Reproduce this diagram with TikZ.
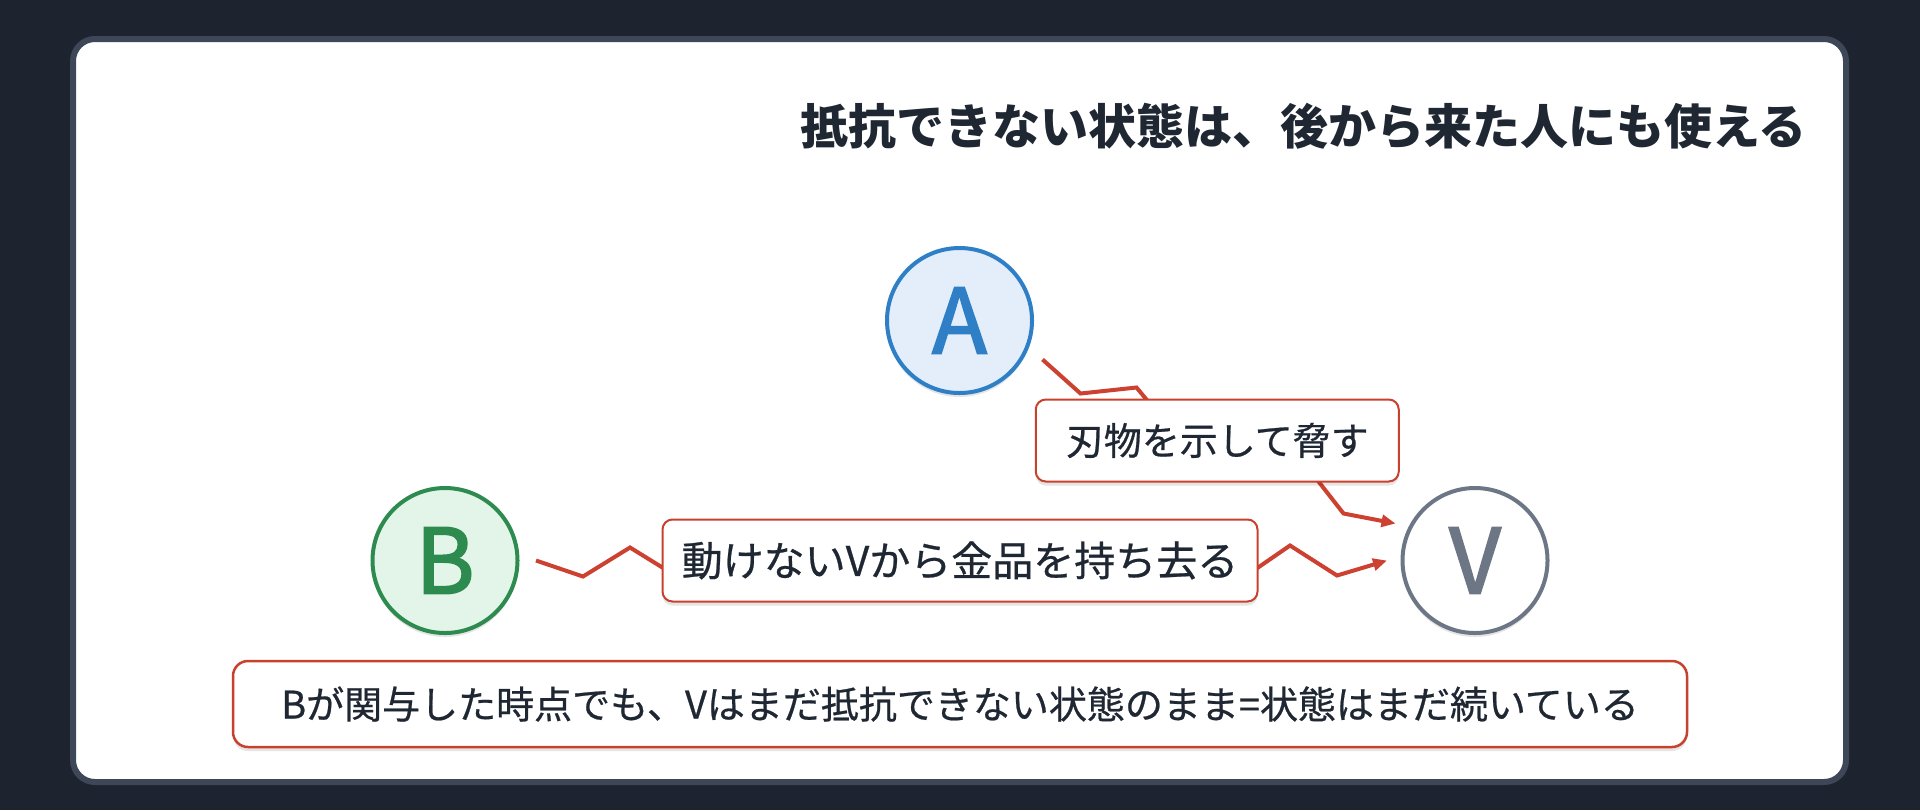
\documentclass[tikz,border=0pt]{standalone}
\usepackage{fontspec}
\setmainfont{Noto Sans CJK JP}
\newfontfamily\labelfont{Noto Sans CJK JP}[FakeBold=0.6]
\newfontfamily\letterfont{Noto Sans CJK JP}[FakeBold=2.2]
\usetikzlibrary{calc,arrows.meta,positioning,shadows}

\definecolor{bgdark}{HTML}{1E242F}
\definecolor{cardedge}{HTML}{3D4757}
\definecolor{ink}{HTML}{1F2733}
\definecolor{zapred}{HTML}{CC4130}
\definecolor{boxred}{HTML}{C8412C}
\definecolor{ablue}{HTML}{2E7FC6}
\definecolor{afill}{HTML}{E4EEFA}
\definecolor{bgreen}{HTML}{2E8B50}
\definecolor{bfill}{HTML}{E3F5E8}
\definecolor{vgray}{HTML}{6C7684}

\tikzset{
  person/.style={circle, minimum size=72.5pt, inner sep=0pt, line width=2pt,
    font=\fontsize{45}{45}\selectfont\letterfont},
  actlabel/.style={draw=boxred, line width=1pt, fill=white, rounded corners=5pt,
    minimum height=41pt, inner sep=0pt, text=ink,
    font=\fontsize{19}{19}\selectfont\labelfont},
  zap/.style={draw=zapred, line width=2pt, line join=miter,
    -{Triangle[length=7pt,width=6pt]}},
  softshadow/.style={drop shadow={shadow xshift=0pt, shadow yshift=-2pt,
    opacity=.1, fill=black}}
}

\begin{document}
\begin{tikzpicture}[x=0.5pt, y=-0.5pt]
  \useasboundingbox (0,0) rectangle (1920,810);
  \fill[bgdark] (0,0) rectangle (1920,810);
  \draw[cardedge, fill=white, line width=3pt, rounded corners=11pt]
    (73,39) rectangle (1846,782);

  \node[anchor=east, text=ink, font=\fontsize{24}{24}\selectfont\bfseries]
    (title) at (1814,126) {抵抗できない状態は、後から来た人にも使える};

  % the three people
  \node[person, draw=ablue, fill=afill, text=ablue, softshadow] (A) at (959.5,320.5) {A};
  \node[person, draw=bgreen, fill=bfill, text=bgreen, softshadow] (B) at (445,560.5) {B};
  \node[person, draw=vgray, fill=white, text=vgray, softshadow] (V) at (1475,560.5) {V};

  % A threatens V, B takes from V
  \draw[zap] ($(A)+(83,39)$) -- ++(38,34) -- ++(56,-6) -- ++(34,41)
    -- ++(130,30) -- ++(43,55) -- ++(52,10);
  \draw[zap] ($(B)+(91,0)$) -- ++(47,16) -- ++(47,-29) -- ++(47,29)
    -- ++(568,0) -- ++(45,-31) -- ++(47,30) -- ++(50,-15);

  \node[actlabel, minimum width=181.5pt, softshadow] (threat) at ($(A)!0.5!(V)$)
    {刃物を示して脅す};
  \node[actlabel, minimum width=297.5pt, softshadow] (take) at ($(B)!0.5!(V)$)
    {\fontsize{20.5}{20.5}\selectfont 動けないVから金品を持ち去る};

  \node[actlabel, minimum width=727pt, minimum height=43pt, line width=1.25pt,
    rounded corners=7.5pt, softshadow] (note) at (960,704)
    {Bが関与した時点でも、Vはまだ抵抗できない状態のまま=状態はまだ続いている};
\end{tikzpicture}
\end{document}
